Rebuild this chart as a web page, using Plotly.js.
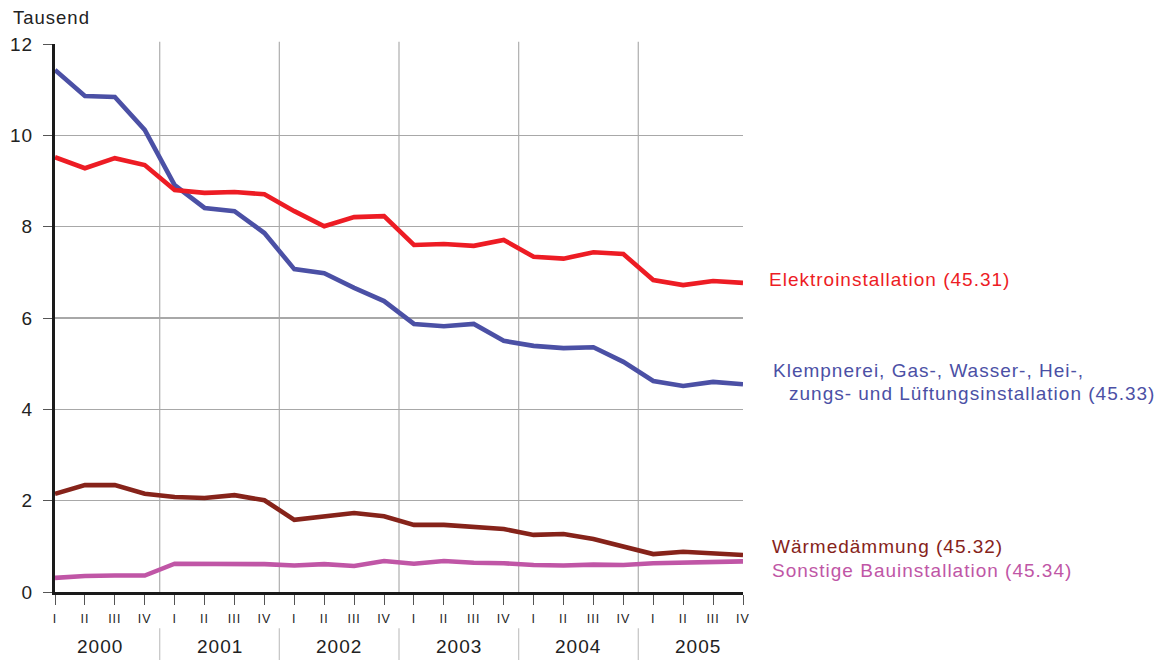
<!DOCTYPE html>
<html><head><meta charset="utf-8">
<script src="https://cdn.plot.ly/plotly-3.0.1.min.js"></script>
<style>html,body{margin:0;padding:0;background:#fff;}#chart{width:1168px;height:660px;} svg text{letter-spacing:1px;}</style>
</head><body><div id="chart"></div>
<script>
const years = ["2000","2001","2002","2003","2004","2005"];
const quarters = ["I","II","III","IV"];
const elektro = [9.52,9.28,9.50,9.35, 8.80,8.74,8.76,8.71, 8.34,8.01,8.21,8.23, 7.60,7.62,7.58,7.71, 7.34,7.30,7.44,7.40, 6.83,6.72,6.81,6.77];
const klempner = [11.43,10.86,10.84,10.12, 8.91,8.41,8.34,7.86, 7.07,6.98,6.66,6.37, 5.87,5.82,5.87,5.50, 5.39,5.34,5.36,5.04, 4.62,4.51,4.60,4.55];
const waerme = [2.15,2.34,2.34,2.15, 2.08,2.06,2.12,2.01, 1.58,1.66,1.73,1.66, 1.47,1.47,1.42,1.38, 1.25,1.27,1.16,0.99, 0.83,0.88,0.85,0.81];
const sonstige = [0.31,0.35,0.36,0.36, 0.62,0.62,0.61,0.61, 0.58,0.61,0.57,0.68, 0.62,0.68,0.64,0.63, 0.59,0.58,0.60,0.59, 0.63,0.64,0.64,0.67];
const seriesNames = ["Elektroinstallation (45.31)","Klempnerei, Gas-, Wasser-, Hei-,","zungs- und Lüftungsinstallation (45.33)","Wärmedämmung (45.32)","Sonstige Bauinstallation (45.34)"];

const n = years.length * quarters.length;
const xs = Array.from({length:n},(_,i)=>i);
const qText = xs.map(i=>quarters[i%4]);
const colors = {el:"#ed1c24", kl:"#4b50a5", wa:"#86231a", so:"#c056a6"};
const font = "Liberation Sans, Arial, sans-serif";

function tr(y,c){return {x:xs,y:y,type:"scatter",mode:"lines",line:{color:c,width:4.6},hoverinfo:"skip",showlegend:false};}
const data = [tr(sonstige,colors.so),tr(waerme,colors.wa),tr(klempner,colors.kl),tr(elektro,colors.el)];

const shapes = [];
for (let k=1;k<years.length;k++){
  const xb = k*4-0.5;
  shapes.push({type:"line",xref:"x",yref:"paper",x0:xb,x1:xb,y0:0,y1:1.004,line:{color:"#b4b4b4",width:1.3},layer:"below"});
  shapes.push({type:"line",xref:"x",yref:"paper",x0:xb,x1:xb,y0:-0.066,y1:-0.13,line:{color:"#c8c8c8",width:1.3}});
}
const annotations = [];
years.forEach((yr,k)=>{
  annotations.push({xref:"x",yref:"paper",x:k*4+1.5,y:(592-646)/548,text:yr,showarrow:false,font:{family:font,size:19,color:"#222"},yanchor:"middle"});
});
annotations.push({xref:"paper",yref:"paper",x:(11-55)/688,y:(592-18)/548,text:"Tausend",showarrow:false,xanchor:"left",yanchor:"middle",font:{family:font,size:18.5,color:"#222"}});
const lab = (t,px,py,c)=>({xref:"paper",yref:"paper",x:(px-55)/688,y:(592-py)/548,text:t,showarrow:false,xanchor:"left",yanchor:"middle",font:{family:font,size:19,color:c}});
annotations.push(lab(seriesNames[0],767,279,colors.el));
annotations.push(lab(seriesNames[1],771,370,colors.kl));
annotations.push(lab(seriesNames[2],787,394,colors.kl));
annotations.push(lab(seriesNames[3],770,546,colors.wa));
annotations.push(lab(seriesNames[4],770,570,colors.so));

const layout = {
  width:1168,height:660,
  margin:{l:55,r:425,t:44,b:68},
  paper_bgcolor:"#fff",plot_bgcolor:"#fff",
  font:{family:font,color:"#222"},
  xaxis:{range:[0,n-1],tickvals:xs,ticktext:qText,ticks:"outside",ticklen:10,tickwidth:1,tickcolor:"#555",
         showgrid:false,zeroline:false,showline:true,linecolor:"#1a1a1a",linewidth:3,ticklabelstandoff:3,
         tickfont:{size:12.5,color:"#222"},fixedrange:true},
  yaxis:{range:[0,12],tickvals:[0,2,4,6,8,10,12],ticks:"outside",ticklen:9,tickwidth:1,tickcolor:"#555",
         showgrid:true,gridcolor:"#a8a8a8",gridwidth:1.2,zeroline:false,showline:true,linecolor:"#1a1a1a",linewidth:3,
         ticklabelstandoff:6,tickfont:{size:19,color:"#222"},fixedrange:true},
  shapes:shapes,annotations:annotations
};
Plotly.newPlot("chart",data,layout,{staticPlot:true});
</script></body></html>
